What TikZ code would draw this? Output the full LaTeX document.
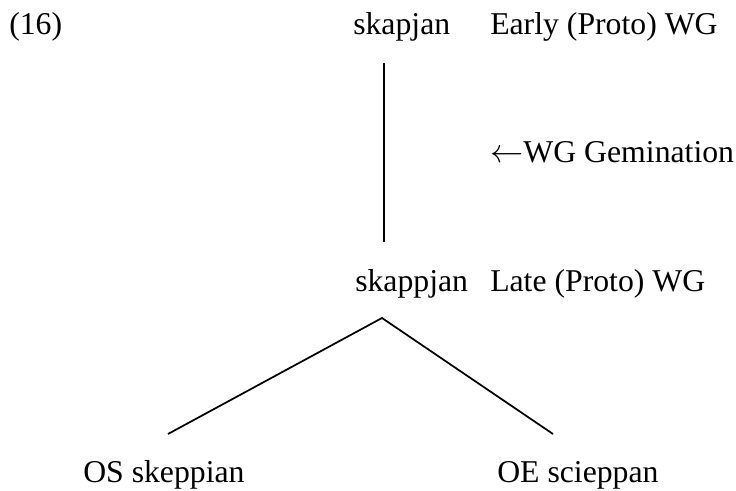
\documentclass[tikz,border=0pt]{standalone}
\usepackage{fontspec}
\setmainfont{Liberation Serif}
\begin{document}
\begin{tikzpicture}[x=0.75pt,y=-0.75pt,
  lbl/.style={anchor=base west,inner sep=0pt,font=\fontsize{23.8pt}{28pt}\selectfont},
  branch/.style={line width=1.3pt}]
\useasboundingbox (0,0) rectangle (736,491);
\node[lbl] (ex) at (9,35) {(16)};
\node[lbl] (w1) at (353,35) {skapjan};
\node[lbl] (g1) at (490,35) {Early (Proto) WG};
\node[lbl] (rule) at (490,163) {$\leftarrow$WG Gemination};
\node[lbl] (w2) at (355,292) {skappjan};
\node[lbl] (g2) at (490,292) {Late (Proto) WG};
\node[lbl] (os) at (83,483) {OS skeppian};
\node[lbl] (oe) at (497,483) {OE scieppan};
\coordinate (vt) at (384,63);
\coordinate (vb) at (384,242);
\coordinate (apex) at (382,318);
\coordinate (lft) at (168,434);
\coordinate (rgt) at (553,434);
\draw[branch] (vt) -- (vb);
\draw[branch] (lft) -- (apex) -- (rgt);
\end{tikzpicture}
\end{document}
